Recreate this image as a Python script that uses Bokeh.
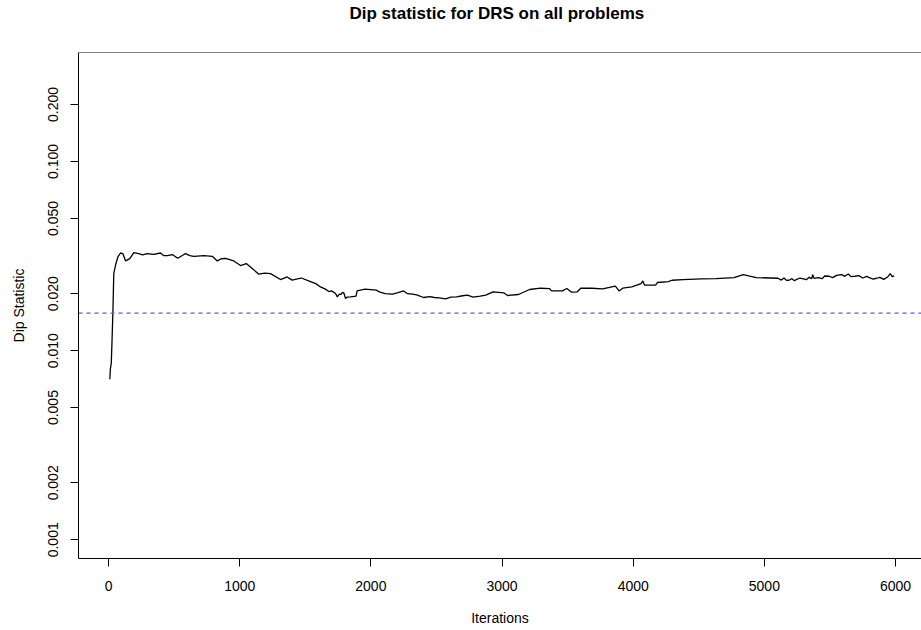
from bokeh.plotting import figure
from bokeh.models import FixedTicker, Span, Range1d, PrintfTickFormatter, Title
from bokeh.embed import file_html
from bokeh.resources import INLINE

# ---- data ----
iterations = [10, 14, 21, 27, 33, 40, 53, 71, 91, 109, 130, 162, 193, 231, 260, 295, 345, 396, 420,
              448, 486, 528, 587, 620, 650, 727, 791, 829, 860, 892, 955, 1006, 1050, 1096, 1146,
              1190, 1235, 1311, 1362, 1400, 1439, 1470, 1540, 1580, 1616, 1650, 1680, 1700, 1731,
              1744, 1760, 1770, 1785, 1794, 1807, 1820,
              1845, 1887, 1895, 1956, 2040, 2070, 2109, 2165, 2200, 2249, 2280, 2318, 2350, 2401,
              2450, 2485, 2520, 2569, 2610, 2653, 2700, 2736, 2780,
              2834, 2876, 2931, 3015, 3043, 3126, 3210, 3293, 3363, 3377, 3460, 3494, 3530, 3572,
              3600, 3683, 3767, 3864, 3892, 3920, 3989, 4060, 4073, 4087, 4171, 4184, 4268, 4296,
              4380, 4519, 4631, 4769, 4839, 4881, 4937, 5104, 5130, 5150, 5170, 5187, 5210, 5230,
              5243, 5270, 5298, 5320, 5340, 5360, 5369, 5378, 5411, 5440, 5460, 5494, 5520, 5550,
              5591, 5610, 5640, 5660, 5689, 5720, 5750, 5780, 5800, 5830, 5856, 5880, 5910, 5940,
              5960, 5975, 5990]
dip_statistic = [0.00705, 0.0080, 0.00859, 0.0115, 0.01578, 0.02553, 0.02825, 0.03126, 0.03281,
                 0.03259, 0.02979, 0.03066, 0.03296, 0.03259, 0.0321, 0.03259, 0.03228, 0.03281,
                 0.0318, 0.03176, 0.03219, 0.03076, 0.03259, 0.0318, 0.03153, 0.03176, 0.03153,
                 0.02979, 0.0306, 0.03076, 0.02979, 0.02816, 0.02884, 0.02716, 0.02534, 0.0257,
                 0.02553, 0.02375, 0.02451, 0.0236, 0.02392, 0.0242, 0.02318, 0.0226, 0.02171,
                 0.0212, 0.02053, 0.0207, 0.02003,
                 0.01923, 0.0199, 0.0198, 0.0203, 0.02018, 0.01886, 0.0192,
                 0.01923, 0.01939, 0.02068, 0.02112, 0.02086, 0.0204, 0.02003, 0.01987, 0.0202,
                 0.02068, 0.0200, 0.01987, 0.0197, 0.01909,
                 0.0193, 0.01909, 0.0190, 0.01877, 0.0192, 0.01923, 0.0195, 0.01963, 0.0192,
                 0.01939, 0.01963, 0.02043, 0.02018, 0.01956, 0.01980, 0.02104, 0.02137, 0.02129,
                 0.02068, 0.02068, 0.02129, 0.02036, 0.02043, 0.02137, 0.02137, 0.02119, 0.02190,
                 0.02068, 0.02137, 0.02171, 0.02263, 0.02335, 0.02217, 0.02217, 0.02291, 0.02318,
                 0.02355, 0.02375, 0.02392, 0.02404, 0.02433, 0.02525, 0.02482, 0.02433, 0.02413,
                 0.0236, 0.0242, 0.0235, 0.02355, 0.0240, 0.0234, 0.02375, 0.0242, 0.02392, 0.0237,
                 0.0244, 0.0240, 0.0252, 0.0241, 0.02433, 0.0240, 0.0248, 0.02473, 0.0243, 0.0250,
                 0.02525, 0.0247, 0.0254, 0.0246, 0.02473, 0.0249, 0.0242, 0.0247, 0.02433, 0.0239,
                 0.02413, 0.0244, 0.0238, 0.02451, 0.02553, 0.0246, 0.02482]
reference_level = 0.0158

x_ticks = [0, 1000, 2000, 3000, 4000, 5000, 6000]
y_ticks = [0.001, 0.002, 0.005, 0.01, 0.02, 0.05, 0.1, 0.2]
y_tick_labels = ["0.001", "0.002", "0.005", "0.010", "0.020", "0.050", "0.100", "0.200"]

title_text = "Dip statistic for DRS on all problems"
x_label = "Iterations"
y_label = "Dip Statistic"

FONT = "Liberation Sans"

y_min, y_max = 10 ** -3.099, 10 ** -0.424

p = figure(width=921, height=630, output_backend="svg", toolbar_location=None,
           y_axis_type="log",
           x_range=Range1d(-229, 6198), y_range=Range1d(y_min, y_max),
           min_border_left=78, min_border_right=0, min_border_top=52, min_border_bottom=72)
p.outline_line_color = None
p.background_fill_color = "white"
p.border_fill_color = "white"
p.xgrid.visible = False
p.ygrid.visible = False

# spacer between the title and the plot box (keeps the title at the top of the page)
p.add_layout(Title(text=" ", text_font_size="1px", standoff=26), "above")

# main title
p.title.text = title_text
p.title.text_font = FONT
p.title.text_font_size = "17px"
p.title.text_font_style = "bold"
p.title.text_color = "black"
p.title.align = "left"
p.title.offset = 271
p.title.standoff = 2

def style_axis(ax):
    ax.axis_line_color = "black"
    ax.axis_line_width = 1
    ax.major_tick_line_color = "black"
    ax.major_tick_out = 8
    ax.major_tick_in = 0
    ax.minor_tick_line_color = None
    ax.major_label_text_font = FONT
    ax.major_label_text_font_size = "14px"
    ax.major_label_text_color = "black"
    ax.axis_label_text_font = FONT
    ax.axis_label_text_font_size = "14px"
    ax.axis_label_text_font_style = "normal"
    ax.axis_label_text_color = "black"

xa = p.xaxis[0]
style_axis(xa)
xa.ticker = FixedTicker(ticks=x_ticks)
xa.major_label_standoff = 14
xa.axis_label = x_label
xa.axis_label_standoff = 16

ya = p.yaxis[0]
style_axis(ya)
ya.ticker = FixedTicker(ticks=y_ticks)
ya.formatter = PrintfTickFormatter(format="%.3f")
ya.major_label_overrides = {t: s for t, s in zip(y_ticks, y_tick_labels)}
ya.major_label_orientation = "vertical"
ya.major_label_standoff = 12
ya.axis_label = y_label
ya.axis_label_standoff = 19

# top border of the box
p.add_layout(Span(location=y_max, dimension="width", line_color="black", line_width=1))

p.add_layout(Span(location=reference_level, dimension="width", line_color="#5a5af0",
                  line_dash="4 4", line_width=1.3))
p.line(iterations, dip_statistic, line_color="black", line_width=1.3)

open("out.html", "w").write(file_html(p, INLINE))
